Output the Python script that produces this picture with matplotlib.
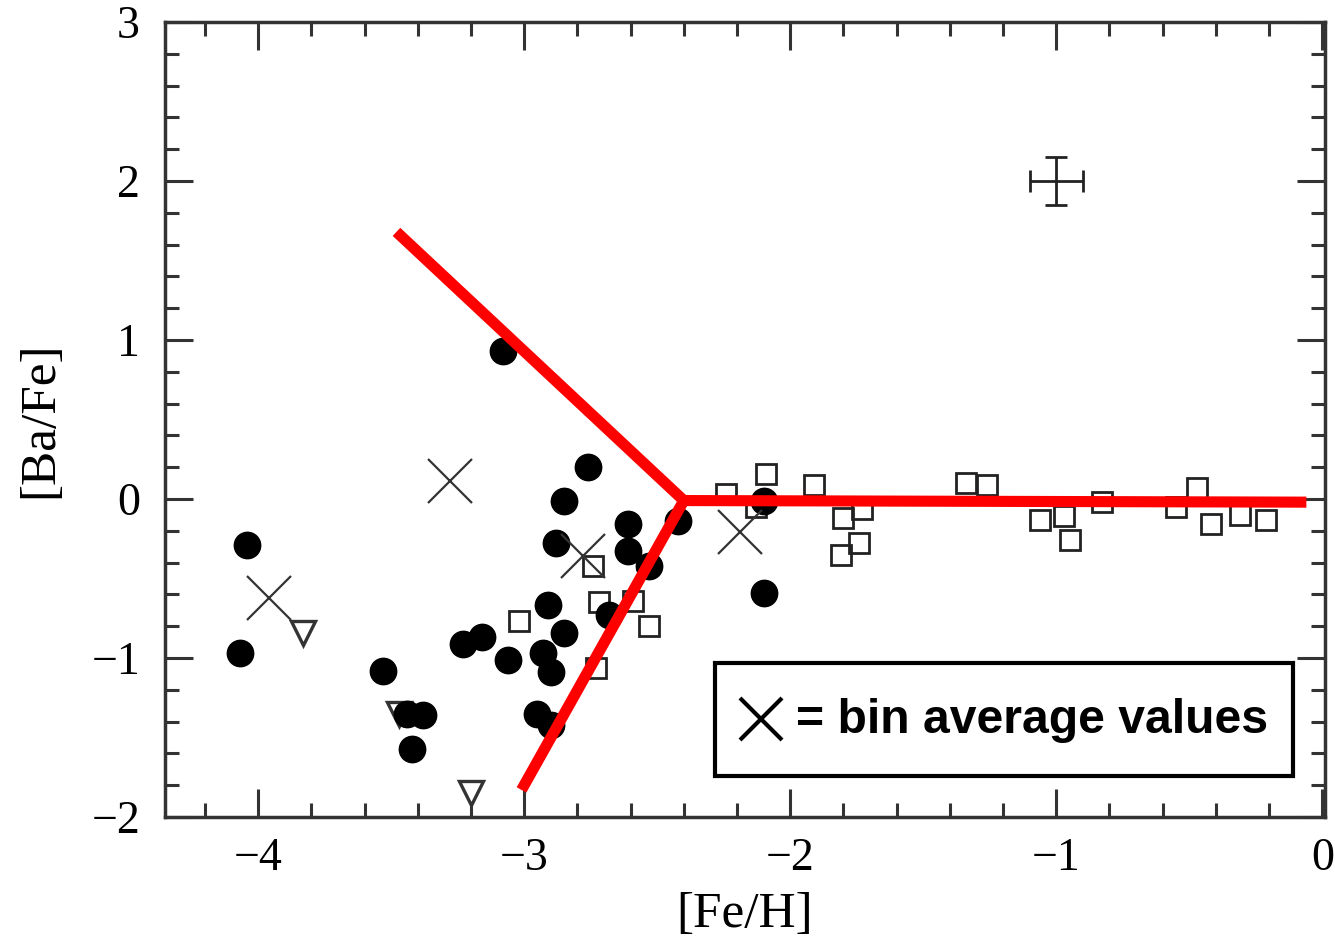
import matplotlib
matplotlib.use("Agg")
import matplotlib.pyplot as plt
from matplotlib.ticker import MultipleLocator
from matplotlib.patches import Rectangle

# filled circles
circ_x = [-4.04, -4.07, -3.53, -3.44, -3.38, -3.42, -3.08, -2.76, -2.85, -2.88, -2.61, -2.42,
          -2.61, -2.53, -2.91, -2.68, -2.85, -3.23, -3.16, -3.06, -2.93, -2.90, -2.95, -2.90,
          -2.10, -2.10]
circ_y = [-0.29, -0.97, -1.08, -1.35, -1.36, -1.57, 0.93, 0.20, -0.01, -0.28, -0.16, -0.14,
          -0.33, -0.42, -0.67, -0.73, -0.84, -0.91, -0.87, -1.01, -0.97, -1.09, -1.35, -1.42,
          -0.01, -0.59]

# open squares
sq_x = [-2.74, -2.72, -2.59, -2.53, -3.02, -2.73, -2.24, -2.09, -2.13, -1.91, -1.80, -1.73,
        -1.74, -1.81, -1.34, -1.26, -1.06, -0.97, -0.95, -0.83, -0.55, -0.47, -0.42, -0.31, -0.21]
sq_y = [-0.42, -0.65, -0.64, -0.80, -0.77, -1.06, 0.03, 0.16, -0.05, 0.09, -0.12, -0.06,
        -0.28, -0.35, 0.10, 0.09, -0.13, -0.11, -0.26, -0.02, -0.05, 0.07, -0.16, -0.10, -0.13]

# upper limits (open triangles)
tri_x = [-3.83, -3.20, -3.47]
tri_y = [-0.84, -1.85, -1.35]

# bin averages
bin_x = [-3.96, -3.28, -2.78, -2.19]
bin_y = [-0.62, 0.11, -0.36, -0.21]

# red guide lines
red1_x = [-3.48, -2.40, -0.06]
red1_y = [1.68, -0.01, -0.02]
red2_x = [-2.40, -3.01]
red2_y = [-0.01, -1.83]

fig = plt.figure(figsize=(13.35, 9.4), dpi=100)
ax = fig.add_axes([0.1236, 0.1309, 0.8689, 0.8457])

ax.plot(tri_x, tri_y, linestyle='none', marker='v', ms=17, mfc='white', mec='#333333', mew=2.4, zorder=2)
ax.plot(sq_x, sq_y, linestyle='none', marker='s', ms=14, mfc='none', mec='#222222', mew=2.0, zorder=3)
ax.plot(circ_x, circ_y, linestyle='none', marker='o', ms=19, mfc='black', mec='black', zorder=3)
ax.plot(bin_x, bin_y, linestyle='none', marker='x', ms=32, mec='#333333', mew=1.6, zorder=4)
ax.errorbar([-1.0], [2.0], xerr=[0.1], yerr=[0.15], fmt='none', ecolor='#222222',
            elinewidth=2, capsize=8, capthick=2)

ax.plot(red1_x, red1_y, color='#ff0000', lw=8, solid_capstyle='butt', solid_joinstyle='miter', zorder=5)
ax.plot(red2_x, red2_y, color='#ff0000', lw=8, solid_capstyle='butt', zorder=5)

ax.set_xlim(-4.35, 0.01)
ax.set_ylim(-2, 3)
ax.xaxis.set_minor_locator(MultipleLocator(0.2))
ax.yaxis.set_minor_locator(MultipleLocator(0.2))
ax.tick_params(which='both', direction='in', top=True, right=True, color='#333333')
ax.tick_params(which='major', length=20, width=2.2, labelsize=33, pad=15)
ax.tick_params(which='minor', length=10, width=2.2)
ax.tick_params(axis='y', which='major', pad=18)
for s in ax.spines.values():
    s.set_linewidth(2.5)
    s.set_color('#333333')

ax.set_xticks([-4, -3, -2, -1, 0])
ax.set_xticklabels(['\u22124', '\u22123', '\u22122', '\u22121', '0'], family='Liberation Serif')
ax.set_yticks([-2, -1, 0, 1, 2, 3])
ax.set_yticklabels(['\u22122', '\u22121', '0', '1', '2', '3'], family='Liberation Serif')

ax.set_xlabel('[Fe/H]', fontsize=37, family='Liberation Serif', labelpad=8)
ax.set_ylabel('[Ba/Fe]', fontsize=37, family='Liberation Serif', labelpad=20)

# legend box
ax.add_patch(Rectangle((0.474, 0.052), 0.498, 0.142, transform=ax.transAxes,
                       facecolor='white', edgecolor='black', lw=3, zorder=6))
ax.plot([0.5135], [0.123], transform=ax.transAxes, marker='x', ms=30, mec='black', mew=3, zorder=7)
ax.text(0.544, 0.121, '= bin average values', transform=ax.transAxes, fontsize=34.7,
        fontweight='bold', family='Liberation Sans', va='center', ha='left', zorder=7)

fig.savefig('out.png', dpi=100)
